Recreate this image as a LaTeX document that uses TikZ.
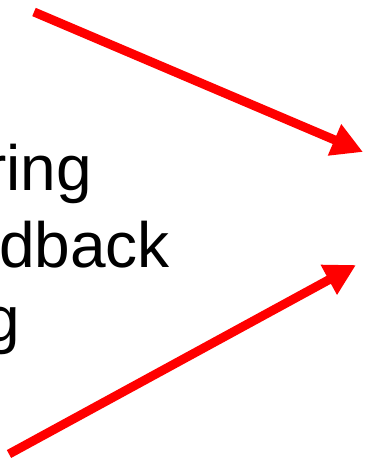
\documentclass[tikz,border=0pt]{standalone}
\usepackage{fontspec}
\setmainfont{Liberation Sans}
\usetikzlibrary{arrows.meta}

\begin{document}
\begin{tikzpicture}[x=1pt, y=-1pt,
  word/.style={anchor=base east, inner sep=0pt, font=\fontsize{64}{77}\selectfont},
  arr/.style={-{Triangle[length=31pt, width=32pt]}, line width=9pt, draw=red}
]
\useasboundingbox (0,0) rectangle (366,462);
\clip (0,0) rectangle (366,462);

% -- cut-off words --
\node[word] (ring)  at (92, 190)  {ring};
\node[word] (dback) at (170, 267) {dback};
\node[word] (g)     at (20, 341)  {g};

% -- arrow ends --
\coordinate (topstart) at (34, 12);
\coordinate (toptip)   at (363, 152);
\coordinate (botstart) at (9, 454);
\coordinate (bottip)   at (356, 265);

% -- arrows --
\draw[arr] (topstart) -- (toptip);
\draw[arr] (botstart) -- (bottip);

\end{tikzpicture}
\end{document}
